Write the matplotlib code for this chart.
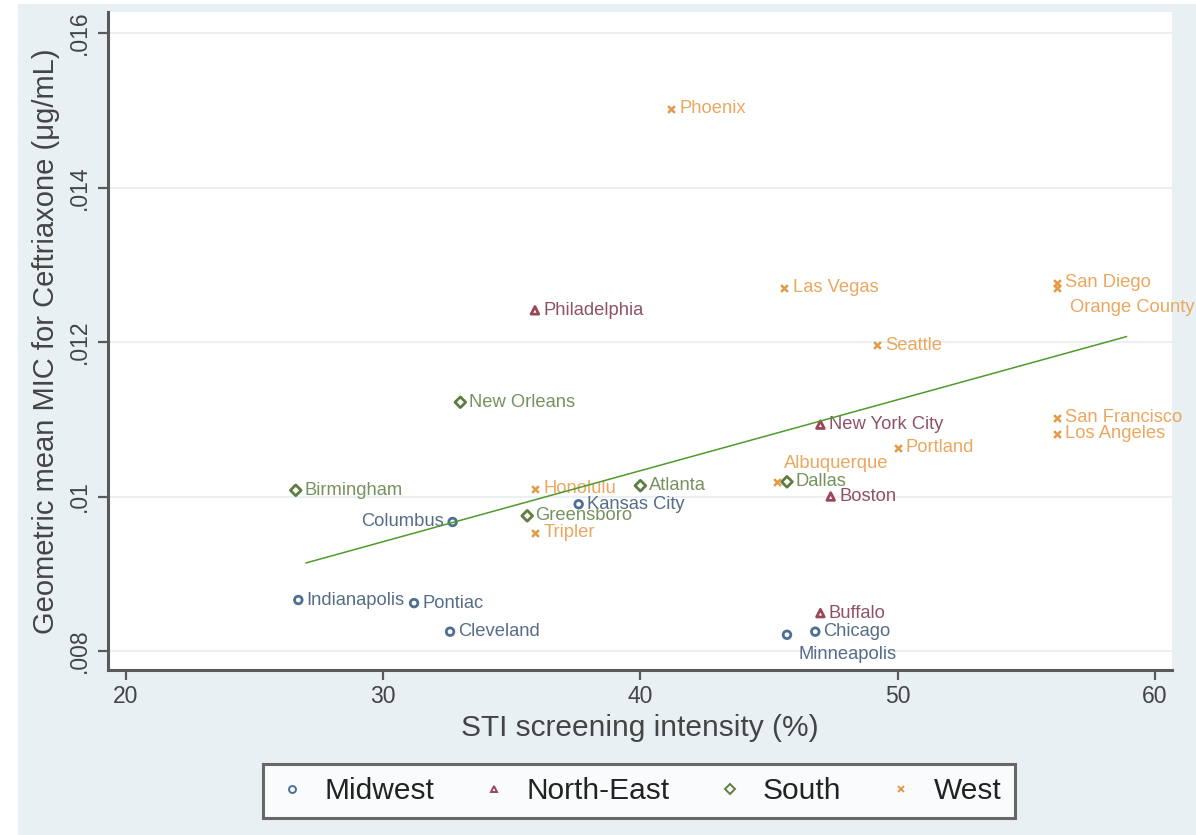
import matplotlib
matplotlib.use("Agg")
import matplotlib.pyplot as plt
from matplotlib.patches import Rectangle

plt.rcParams['font.family'] = ['Liberation Sans', 'DejaVu Sans']

# ---- data ----
regions = ["Midwest", "North-East", "South", "West"]

midwest_names = ["Indianapolis", "Pontiac", "Cleveland", "Columbus", "Kansas City", "Chicago", "Minneapolis"]
midwest_x = [26.7, 31.2, 32.6, 32.7, 37.6, 46.8, 45.7]
midwest_y = [0.00866, 0.00862, 0.00825, 0.00967, 0.00990, 0.00825, 0.00821]

northeast_names = ["Philadelphia", "New York City", "Boston", "Buffalo"]
northeast_x = [35.9, 47.0, 47.4, 47.0]
northeast_y = [0.01241, 0.01093, 0.01000, 0.00849]

south_names = ["Birmingham", "New Orleans", "Greensboro", "Atlanta", "Dallas"]
south_x = [26.6, 33.0, 35.6, 40.0, 45.7]
south_y = [0.01008, 0.01122, 0.00975, 0.01014, 0.01019]

west_names = ["Phoenix", "Las Vegas", "San Diego", "Orange County", "Seattle", "San Francisco",
              "Los Angeles", "Portland", "Albuquerque", "Honolulu", "Tripler"]
west_x = [41.2, 45.6, 56.2, 56.2, 49.2, 56.2, 56.2, 50.0, 45.3, 35.9, 35.9]
west_y = [0.01502, 0.01270, 0.01277, 0.01270, 0.01196, 0.01102, 0.01081, 0.01063, 0.01019, 0.01010, 0.00953]

trend_x = [27.0, 58.9]
trend_y = [0.00914, 0.01207]

x_ticks = [20, 30, 40, 50, 60]
y_ticks = [0.008, 0.010, 0.012, 0.014, 0.016]
y_tick_labels = [".008", ".01", ".012", ".014", ".016"]

# ---- styling ----
W, H = 1196, 835
fig = plt.figure(figsize=(W / 100, H / 100), dpi=100)
bg = "#e9f0f3"
fig.patch.set_facecolor(bg)
fig.patches.append(Rectangle((0, 0), 18 / W, 1, transform=fig.transFigure, facecolor="white",
                             edgecolor="none", zorder=0))
fig.patches.append(Rectangle((0, 1 - 4 / H), 1, 4 / H, transform=fig.transFigure, facecolor="white",
                             edgecolor="none", zorder=0))

ax = fig.add_axes([108 / W, 1 - 670 / H, (1172 - 108) / W, (670 - 12) / H])
ax.set_facecolor("white")
ax.set_xlim(19.30, 60.67)
ax.set_ylim(0.007754, 0.016272)

for s in ["top", "right"]:
    ax.spines[s].set_visible(False)
for s in ["left", "bottom"]:
    ax.spines[s].set_color("#5a5a5a")
    ax.spines[s].set_linewidth(2.2)

ax.set_xticks(x_ticks)
ax.set_xticklabels([str(t) for t in x_ticks])
ax.set_yticks(y_ticks)
ax.set_yticklabels(y_tick_labels, rotation=90, va="center")
ax.tick_params(axis="both", colors="#5a5a5a", length=7, width=1.6, labelsize=16.5,
               labelcolor="#444444")
ax.tick_params(axis="y", pad=5)
ax.tick_params(axis="x", pad=4)
ax.yaxis.grid(True, color="#eceff1", linewidth=1.5)
ax.set_axisbelow(True)

ax.set_xlabel("STI screening intensity (%)", fontsize=21.5, color="#444444", labelpad=4)
ax.set_ylabel("Geometric mean MIC for Ceftriaxone (μg/mL)", fontsize=21, color="#444444", labelpad=6)

series = [
    ("Midwest", midwest_names, midwest_x, midwest_y, "o", "#4d6f93", "#566c88"),
    ("North-East", northeast_names, northeast_x, northeast_y, "^", "#9a4858", "#8f5264"),
    ("South", south_names, south_x, south_y, "D", "#5f7d3f", "#76925e"),
    ("West", west_names, west_x, west_y, "x", "#e59a45", "#eca75e"),
]

# label offsets (points) per city; default to the right
special = {
    "Columbus": (-6, 0, "right", "center"),
    "Minneapolis": (8, -14, "left", "center"),
    "Orange County": (9, -14, "left", "center"),
    "Albuquerque": (5, 13, "left", "center"),
}

for name, names, xs, ys, mk, mc, tc in series:
    if mk == "x":
        ax.scatter(xs, ys, marker=mk, s=24, color=mc, linewidths=1.8, zorder=3, label=name)
    else:
        ax.scatter(xs, ys, marker=mk, s=30, facecolors="none", edgecolors=mc,
                   linewidths=2.0, zorder=3, label=name)
    for n, x, y in zip(names, xs, ys):
        dx, dy, ha, va = special.get(n, (6, 0, "left", "center"))
        ax.annotate(n, (x, y), xytext=(dx, dy), textcoords="offset points",
                    ha=ha, va=va, fontsize=13.2, color=tc, zorder=4)

ax.plot(trend_x, trend_y, color="#4f9a2c", linewidth=1.1, zorder=5)

handles = []
for name, names, xs, ys, mk, mc, tc in series:
    if mk == "x":
        h = plt.Line2D([], [], linestyle="none", marker=mk, markersize=4, color=mc,
                       markeredgewidth=1.4)
    else:
        h = plt.Line2D([], [], linestyle="none", marker=mk, markersize=5, markerfacecolor="none",
                       markeredgecolor=mc, markeredgewidth=1.4)
    handles.append(h)

leg = fig.legend(handles, regions, loc="center", bbox_to_anchor=(639 / W, 1 - 791 / H),
                 ncol=4, frameon=True, fontsize=21.5, fancybox=False, handletextpad=0.6,
                 columnspacing=1.5, borderpad=0.45, handlelength=1.0)
leg.get_frame().set_edgecolor("#444444")
leg.get_frame().set_linewidth(2.2)
for t in leg.get_texts():
    t.set_color("#222222")

fig.savefig("out.png", dpi=100, facecolor=fig.get_facecolor())
